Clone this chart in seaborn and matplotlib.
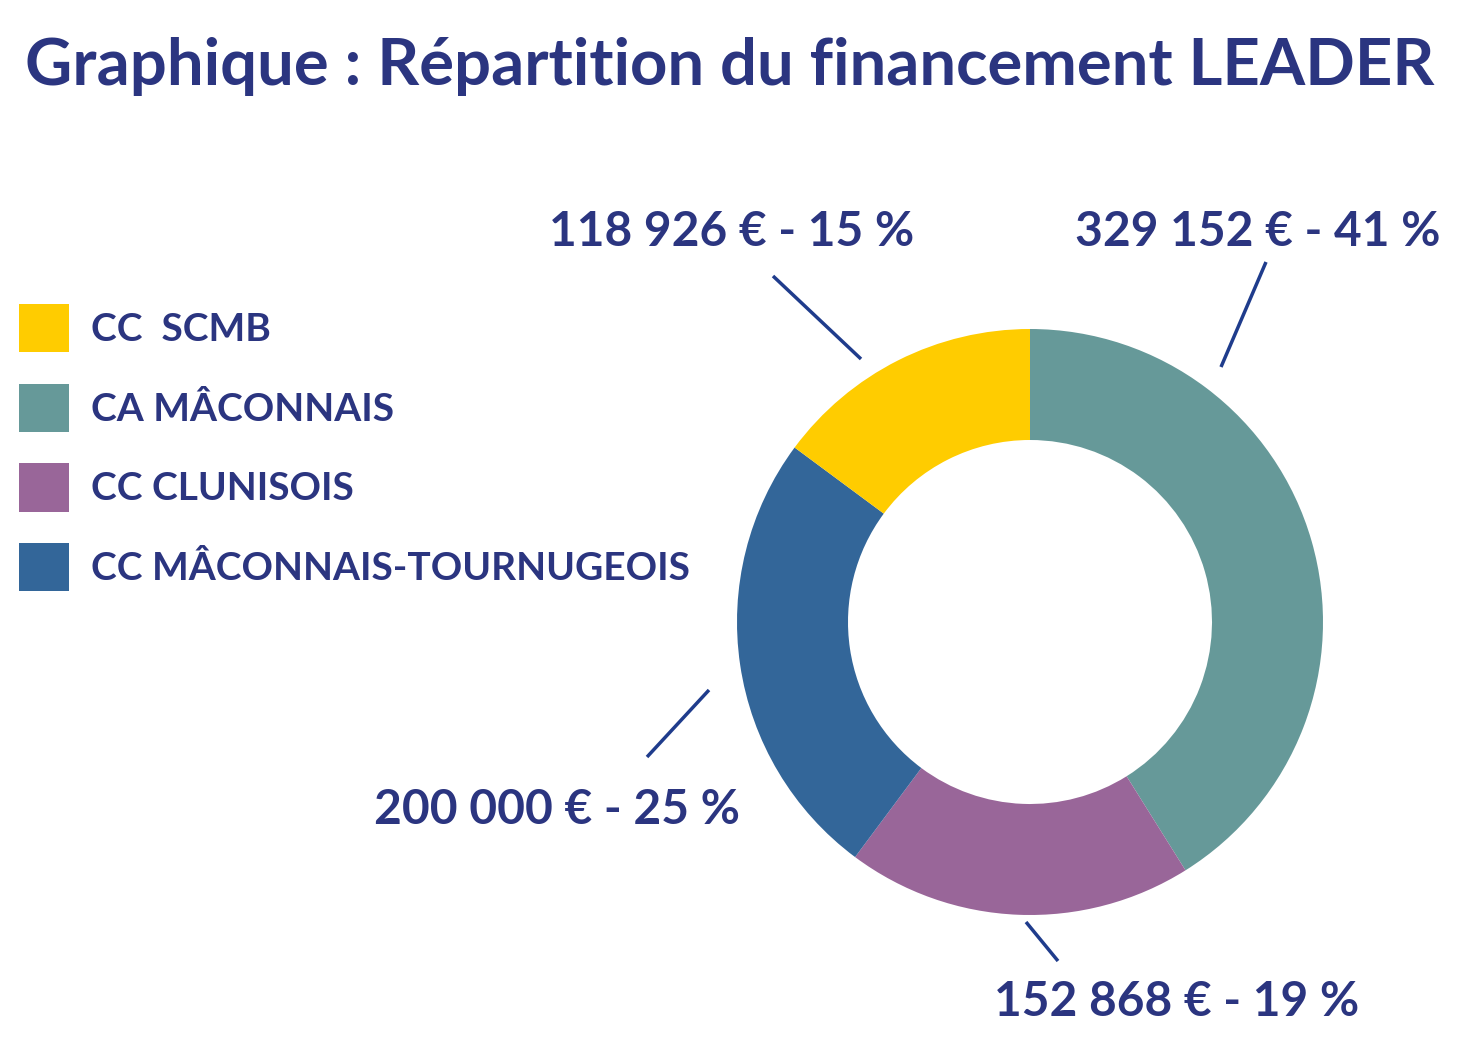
import matplotlib
matplotlib.use("Agg")
import matplotlib.pyplot as plt
import seaborn as sns
from matplotlib.patches import Patch

sns.set_theme(style="white")
plt.rcParams['font.family'] = ['Lato', 'DejaVu Sans']

# donnees (ordre du camembert, sens horaire depuis midi)
communes = ["CA MÂCONNAIS", "CC CLUNISOIS", "CC MÂCONNAIS-TOURNUGEOIS", "CC  SCMB"]
montants = [329152, 152868, 200000, 118926]
pourcentages = [41, 19, 25, 15]
couleurs = ["#669999", "#996699", "#336699", "#FFCC00"]
ordre_legende = [3, 0, 1, 2]

navy = "#2B3580"
line_col = "#1F3C8C"

W, H = 1458, 1042
fig = plt.figure(figsize=(W / 100, H / 100), dpi=100)
ax = fig.add_axes([0, 0, 1, 1])

cx, cy = 1030, H - 622
wedges, _ = ax.pie(montants, colors=couleurs, startangle=90, counterclock=False,
                   radius=293, center=(cx, cy), frame=True,
                   wedgeprops=dict(width=111, linewidth=0))
ax.set_xlim(0, W)
ax.set_ylim(0, H)
ax.axis("off")

def fmt(v):
    return f"{v:,}".replace(",", " ")

# positions des etiquettes (pixels, origine en haut a gauche)
label_pos = [(1258, 232), (1177, 1002), (557, 810), (732, 232)]
leaders = [((1221, 367), (1266, 262)), ((1026, 922), (1058, 961)),
           ((709, 690), (647, 757)), ((861, 359), (773, 276))]

for i in range(len(montants)):
    x, y = label_pos[i]
    ax.text(x, H - y, f"{fmt(montants[i])} € - {pourcentages[i]} %", color=navy,
            fontsize=34.5, fontweight="bold", ha="center", va="center")
    (x0, y0), (x1, y1) = leaders[i]
    ax.plot([x0, x1], [H - y0, H - y1], color=line_col, lw=2.5, solid_capstyle="butt")

handles = [Patch(facecolor=couleurs[i], edgecolor="none", label=communes[i]) for i in ordre_legende]
leg = ax.legend(handles=handles, loc="upper left", bbox_to_anchor=(19 / W, 1 - 304 / H),
                frameon=False, fontsize=28, handlelength=1.29, handleheight=1.54,
                handletextpad=0.56, labelspacing=0.8, borderpad=0, borderaxespad=0)
for t in leg.get_texts():
    t.set_color(navy)
    t.set_fontweight("bold")

fig.text(25 / W, 1 - 67 / H, "Graphique : Répartition du financement LEADER", color=navy,
         fontsize=47, fontweight="bold", ha="left", va="center")

fig.savefig("out.png", dpi=100, facecolor="white")
